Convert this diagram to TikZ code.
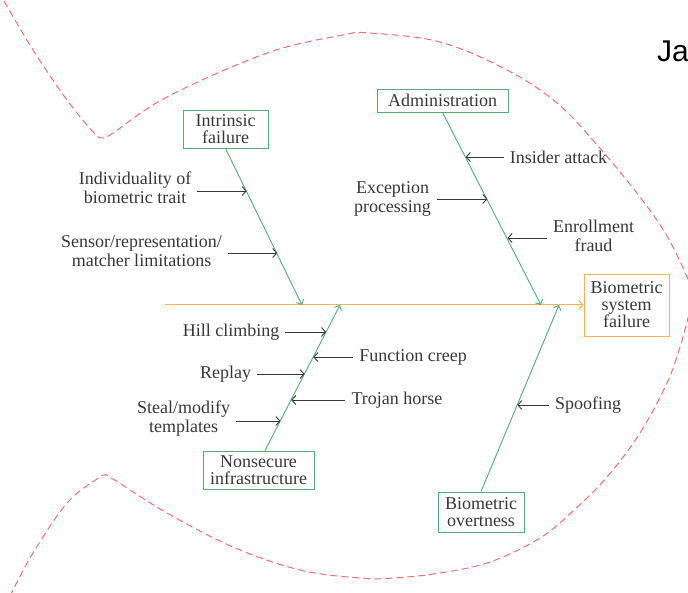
\documentclass[tikz,border=0pt]{standalone}
\usepackage{fontspec}
\setmainfont{Liberation Serif}
\newfontfamily\headfont{Liberation Sans}
\usetikzlibrary{arrows.meta}
\definecolor{bonegreen}{RGB}{82,172,112}
\definecolor{spineorange}{RGB}{247,178,80}
\definecolor{fishred}{RGB}{240,110,110}
\definecolor{inkgray}{RGB}{55,55,55}

\begin{document}
\begin{tikzpicture}[x=1pt,y=-1pt,
  every node/.style={text=inkgray, font=\fontsize{18}{19}\selectfont},
  catbox/.style={draw=bonegreen, line width=0.9pt, inner sep=0pt, align=center,
                 font=\fontsize{18}{17}\selectfont},
  effectbox/.style={catbox, draw=spineorange},
  cause/.style={inner xsep=6pt, inner ysep=0pt, align=center},
  bone/.style={draw=bonegreen, line width=0.9pt, -{Straight Barb[length=4pt,width=8pt]}},
  spine/.style={draw=spineorange, line width=1pt, -{Straight Barb[length=4pt,width=9pt]}},
  hint/.style={draw=inkgray, line width=0.9pt, -{Straight Barb[length=4pt,width=9pt]}},
  outline/.style={draw=fishred, line width=1pt, dash pattern=on 7pt off 4pt}]

\useasboundingbox (0,0) rectangle (688,593);

% fish outline
\draw[outline] plot[smooth, tension=0.6] coordinates {
  (4,1) (33,50) (67,100) (94,133) (103,138) (113,133) (167,97) (267,53)
  (343,35) (369,33) (440,42) (507,70) (557,103) (598,146)
  (640,197) (667,236) (687,277) (693,297) (688,318) (680,347) (667,383)
  (640,433) (607,477) (573,511) (540,538) (490,562) (440,573) (394,578)
  (360,578) (300,570) (233,547) (167,513) (113,479) (105,475) (97,479)
  (67,503) (33,553) (10,596)};

\node[anchor=base west, inner sep=0pt, text=black,
      font=\headfont\fontsize{30}{30}\selectfont] (head) at (657,62) {Ja};

% category and effect boxes
\node[catbox, minimum width=85pt, minimum height=38pt] (intr) at (225.5,129) {Intrinsic\\failure};
\node[catbox, minimum width=131pt, minimum height=23pt] (admin) at (442.5,100.5) {Administration};
\node[catbox, minimum width=111pt, minimum height=38pt] (nonsec) at (258.5,470) {Nonsecure\\infrastructure};
\node[catbox, minimum width=86pt, minimum height=40pt] (overt) at (481,512) {Biometric\\overtness};
\node[effectbox, minimum width=85pt, minimum height=62pt] (bsf) at (626.5,305) {Biometric\\system\\failure};

% spine and bone ends
\coordinate (s0) at (165,305);
\coordinate (t1) at (302,305);
\coordinate (t2) at (541,305);
\coordinate (t3) at (340,305);
\coordinate (t4) at (559,305);

\draw[spine] (s0) -- (bsf.west);
\draw[bone] (intr.south) -- (t1);
\draw[bone] (admin.south) -- (t2);
\draw[bone] ([xshift=6.5pt]nonsec.north) -- (t3);
\draw[bone] (overt.north) -- (t4);

% points on the bones
\coordinate (i1) at (246.7,191);
\coordinate (i2) at (277.3,253);
\coordinate (a1) at (465.7,157);
\coordinate (a2) at (487.4,199);
\coordinate (a3) at (507.5,238);
\coordinate (n1) at (326.1,332);
\coordinate (n2) at (313.3,357);
\coordinate (n3) at (304.6,374);
\coordinate (n4) at (291.2,400);
\coordinate (n5) at (280.4,421);
\coordinate (o1) at (517.3,405);

% causes
\node[cause] (indiv) at (135,187.5) {Individuality of\\biometric trait};
\node[cause] (sensor) at (141.5,251) {Sensor/representation/\\matcher limitations};
\node[cause] (excep) at (392.5,199) {Exception\\processing};
\node[cause] (insider) at (558.5,157) {Insider attack};
\node[cause] (enroll) at (593.5,236) {Enrollment\\fraud};
\node[cause] (hill) at (231,332) {Hill climbing};
\node[cause] (creep) at (413,357) {Function creep};
\node[cause] (replay) at (225.5,374) {Replay};
\node[cause] (trojan) at (397,400) {Trojan horse};
\node[cause] (steal) at (183.5,418.5) {Steal/modify\\templates};
\node[cause] (spoof) at (588,405) {Spoofing};

\draw[hint] (indiv.east |- i1) -- (i1);
\draw[hint] (sensor.east |- i2) -- (i2);
\draw[hint] (insider.west |- a1) -- (a1);
\draw[hint] (excep.east |- a2) -- (a2);
\draw[hint] (enroll.west |- a3) -- (a3);
\draw[hint] (hill.east |- n1) -- (n1);
\draw[hint] (creep.west |- n2) -- (n2);
\draw[hint] (replay.east |- n3) -- (n3);
\draw[hint] (trojan.west |- n4) -- (n4);
\draw[hint] (steal.east |- n5) -- (n5);
\draw[hint] (spoof.west |- o1) -- (o1);
\end{tikzpicture}
\end{document}
